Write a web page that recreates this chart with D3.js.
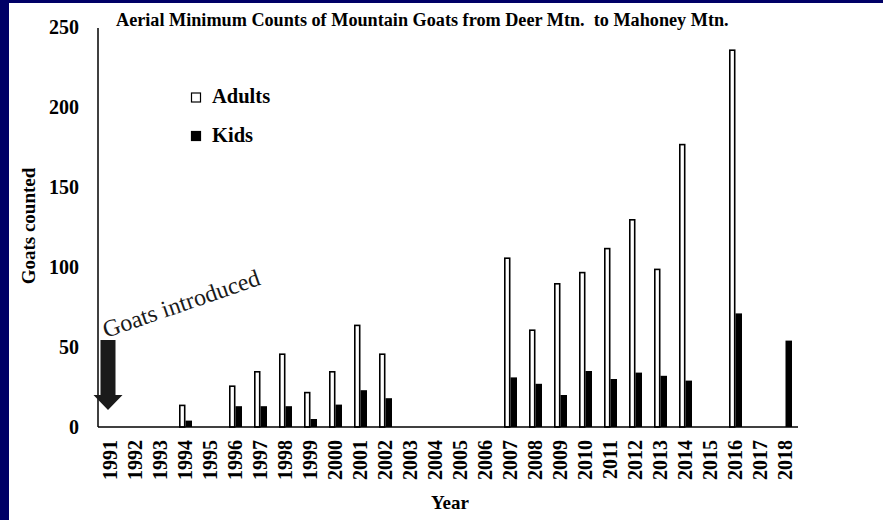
<!DOCTYPE html>
<html>
<head>
<meta charset="utf-8">
<script src="https://cdn.jsdelivr.net/npm/d3@7"></script>
<style>
  html, body { margin: 0; padding: 0; background: #fff; overflow: hidden; }
  svg { display: block; }
  text { font-family: "Liberation Serif", "Times New Roman", serif; }
</style>
</head>
<body>
<script>
const years = ["1991","1992","1993","1994","1995","1996","1997","1998","1999","2000","2001","2002","2003","2004","2005","2006","2007","2008","2009","2010","2011","2012","2013","2014","2015","2016","2017","2018"];
const adults = [null,null,null,14,null,26,35,46,22,35,64,46,null,null,null,null,106,61,90,97,112,130,99,177,null,236,null,null];
const kids   = [null,null,null,4,null,13,13,13,5,14,23,18,null,null,null,null,31,27,20,35,30,34,32,29,null,71,null,54];
const yTicks = [0,50,100,150,200,250];
const seriesNames = ["Adults","Kids"];
const titleText = "Aerial Minimum Counts of Mountain Goats from Deer Mtn.  to Mahoney Mtn.";
const yTitle = "Goats counted";
const xTitle = "Year";
const noteText = "Goats introduced";

const W = 883, H = 520;
const svg = d3.select("body").append("svg").attr("width", W).attr("height", H);

// background and navy frame
svg.append("rect").attr("x",0).attr("y",0).attr("width",W).attr("height",H).attr("fill","#fff");
svg.append("rect").attr("x",0).attr("y",0).attr("width",9).attr("height",H).attr("fill","#000066");
svg.append("rect").attr("x",0).attr("y",0).attr("width",W).attr("height",3).attr("fill","#000066");

const mLeft = 98, mRight = 798, mTop = 27, mBottom = 427;

const x = d3.scaleBand().domain(years).range([mLeft, mRight]).paddingInner(0.48).paddingOuter(0.24);
const xs = d3.scaleBand().domain(seriesNames).range([0, x.bandwidth()]);
const y = d3.scaleLinear().domain([0, 250]).range([mBottom, mTop]);

// bars
const sw = 1.6;
const adultData = years.map((yr,i)=>({yr, v: adults[i]})).filter(d=>d.v!=null);
const kidData = years.map((yr,i)=>({yr, v: kids[i]})).filter(d=>d.v!=null);

svg.append("g").selectAll("rect").data(adultData).join("rect")
  .attr("x", d => x(d.yr) + xs("Adults") + sw/2)
  .attr("y", d => y(d.v) + sw/2)
  .attr("width", xs.bandwidth() - sw)
  .attr("height", d => y(0) - y(d.v) - sw/2)
  .attr("fill", "#fff").attr("stroke", "#000").attr("stroke-width", sw);

svg.append("g").selectAll("rect").data(kidData).join("rect")
  .attr("x", d => x(d.yr) + xs("Kids"))
  .attr("y", d => y(d.v))
  .attr("width", xs.bandwidth())
  .attr("height", d => y(0) - y(d.v))
  .attr("fill", "#000");

// y axis
const yAxis = d3.axisLeft(y).tickValues(yTicks).tickSize(0).tickPadding(19);
const gy = svg.append("g").attr("transform", `translate(${mLeft},0)`).call(yAxis);
gy.select(".domain").attr("stroke","#000").attr("stroke-width",1.5).attr("d", `M0,${y(250)+1}V${y(0)}`);
gy.selectAll("text").attr("font-family","Liberation Serif, serif").attr("font-size",20).attr("font-weight","bold").attr("fill","#000");

// x axis
const xAxis = d3.axisBottom(x).tickSize(0).tickPadding(0);
const gx = svg.append("g").attr("transform", `translate(0,${mBottom})`).call(xAxis);
gx.select(".domain").attr("stroke","#000").attr("stroke-width",1.5).attr("d", `M${mLeft},0H${mRight}`);
gx.selectAll("text")
  .attr("font-family","Liberation Serif, serif").attr("font-size",20).attr("font-weight","bold").attr("fill","#000")
  .attr("text-anchor","end")
  .attr("transform","translate(0,13) rotate(-90)")
  .attr("x",0).attr("y",0).attr("dy","0.33em");

// titles
svg.append("text").attr("x",116).attr("y",26)
  .attr("font-size",18.2).attr("font-weight","bold").style("white-space","pre")
  .text(titleText);

svg.append("text").attr("transform","translate(35,226) rotate(-90)")
  .attr("text-anchor","middle").attr("font-size",19).attr("font-weight","bold")
  .text(yTitle);

svg.append("text").attr("x",450).attr("y",509).attr("text-anchor","middle")
  .attr("font-size",19).attr("font-weight","bold").text(xTitle);

// legend
const legend = svg.append("g");
seriesNames.forEach((name, i) => {
  const ly = 103 + i*38.5;
  legend.append("rect").attr("x",191.5).attr("y",ly-10).attr("width",9).attr("height",9)
    .attr("fill", i===0 ? "#fff" : "#000").attr("stroke","#000").attr("stroke-width",1.2);
  legend.append("text").attr("x",212).attr("y",ly).attr("font-size",20.5).attr("font-weight","bold").text(name);
});

// annotation arrow
const ax = x("1991") + x.bandwidth()/2 - 2.5;
const arrowPath = d3.path();
arrowPath.moveTo(ax-7.5, 340);
arrowPath.lineTo(ax+7.5, 340);
arrowPath.lineTo(ax+7.5, 395);
arrowPath.lineTo(ax+14.5, 395);
arrowPath.lineTo(ax, 410);
arrowPath.lineTo(ax-14.5, 395);
arrowPath.lineTo(ax-7.5, 395);
arrowPath.closePath();
svg.append("path").attr("d", arrowPath.toString()).attr("fill","#1a1a1a");

svg.append("text").attr("transform","translate(106,338) rotate(-19)")
  .attr("font-size",24).attr("fill","#1a1a1a").text(noteText);
</script>
</body>
</html>
